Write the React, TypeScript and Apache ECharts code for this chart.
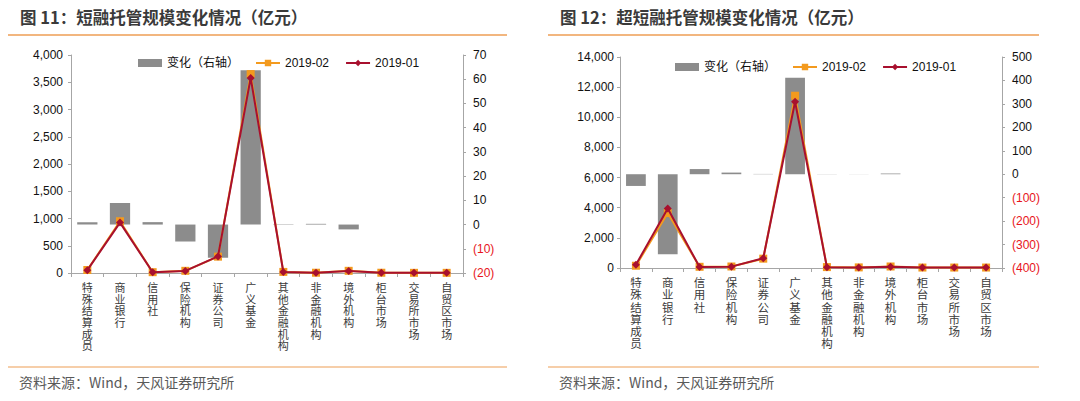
import React, { useEffect, useRef } from "react";
import * as echarts from "echarts";

const categories = ["特殊结算成员", "商业银行", "信用社", "保险机构", "证券公司", "广义基金", "其他金融机构", "非金融机构", "境外机构", "柜台市场", "交易所市场", "自贸区市场"];

// 图11 短融
const cpFeb = [55, 950, 15, 40, 300, 3650, 20, 5, 40, 5, 3, 3];
const cpJan = [52, 925, 13, 38, 304, 3580, 18, 5, 38, 5, 3, 3];
const cpChange = [1.0, 8.9, 1.0, -7, -13.7, 63.7, 0.15, 0.3, -2, 0, 0, 0];

// 图12 超短融
const scpFeb = [150, 3650, 80, 100, 620, 11430, 60, 40, 100, 30, 30, 30];
const scpJan = [220, 3950, 60, 90, 650, 11030, 50, 40, 90, 30, 30, 30];
const scpChange = [-50, -341, 22, 7, 1.2, 412, 0.6, 0.4, 3, 0, 0, 0];

const titles = ["图 11：短融托管规模变化情况（亿元）", "图 12：超短融托管规模变化情况（亿元）"];
const sourceText = "资料来源：Wind，天风证券研究所";
const legendNames = ["变化（右轴）", "2019-02", "2019-01"];

const FONT = "'Liberation Sans', 'Noto Sans CJK SC', sans-serif";
const GRAY_AXIS = "#A6A6A6";
const ORANGE = "#F39A1E";
const RED = "#A8102E";
const BAR = "#8C8C8C";
const LINE_ORANGE = "#EE9E55";

export default function App() {
  const ref = useRef<HTMLDivElement>(null);
  useEffect(() => {
    if (!ref.current) return;
    const chart = echarts.init(ref.current, null, { renderer: "svg" });

    const grids = [
      { left: 71, top: 55, width: 392, height: 218 },
      { left: 620, top: 57, width: 382, height: 211 },
    ];
    const leftAxes = [
      { min: 0, max: 4000, interval: 500, margin: 8 },
      { min: 0, max: 14000, interval: 2000, margin: 6 },
    ];
    const rightAxes = [
      { min: -20, max: 70, interval: 10 },
      { min: -400, max: 500, interval: 100 },
    ];
    const labelFS = [11, 11.5];
    const labelLH = [11.7, 12.2];

    const xAxis: any[] = [];
    const yAxis: any[] = [];
    grids.forEach((g, i) => {
      xAxis.push({
        type: "category",
        gridIndex: i,
        data: categories,
        boundaryGap: true,
        axisLine: { show: true, lineStyle: { color: GRAY_AXIS, width: 1 } },
        axisTick: { show: true, length: 4, lineStyle: { color: GRAY_AXIS } },
        axisLabel: {
          interval: 0,
          margin: 8,
          fontSize: labelFS[i],
          lineHeight: labelLH[i],
          color: "#3a3a3a",
          fontFamily: "'Noto Sans CJK SC', sans-serif",
          formatter: (s: string) => s.split("").join("\n"),
        },
      });
      yAxis.push({
        type: "value",
        gridIndex: i,
        position: "left",
        min: leftAxes[i].min,
        max: leftAxes[i].max,
        interval: leftAxes[i].interval,
        splitLine: { show: false },
        axisLine: { show: true, lineStyle: { color: GRAY_AXIS } },
        axisTick: { show: true, length: 3, lineStyle: { color: GRAY_AXIS } },
        axisLabel: {
          margin: leftAxes[i].margin,
          fontSize: 12,
          color: "#111",
          fontFamily: FONT,
          formatter: (v: number) => v.toLocaleString("en-US"),
        },
      });
      yAxis.push({
        type: "value",
        gridIndex: i,
        position: "right",
        min: rightAxes[i].min,
        max: rightAxes[i].max,
        interval: rightAxes[i].interval,
        splitLine: { show: false },
        axisLine: { show: true, lineStyle: { color: GRAY_AXIS } },
        axisTick: { show: true, length: 3, lineStyle: { color: GRAY_AXIS } },
        axisLabel: {
          margin: 10,
          fontSize: 12,
          color: "#111",
          fontFamily: FONT,
          formatter: (v: number) => (v < 0 ? `{n|(${-v})}` : `${v}`),
          rich: { n: { color: "#E8141B", fontSize: 12, fontFamily: FONT } },
        },
      });
    });

    const sets = [
      { feb: cpFeb, jan: cpJan, chg: cpChange },
      { feb: scpFeb, jan: scpJan, chg: scpChange },
    ];
    const series: any[] = [];
    sets.forEach((s, i) => {
      series.push({
        name: legendNames[0],
        type: "bar",
        xAxisIndex: i,
        yAxisIndex: i * 2 + 1,
        data: s.chg,
        barWidth: "62%",
        itemStyle: { color: BAR },
        z: 1,
      });
      series.push({
        name: legendNames[1],
        type: "line",
        xAxisIndex: i,
        yAxisIndex: i * 2,
        data: s.feb,
        symbol: "rect",
        symbolSize: 8,
        lineStyle: { color: ORANGE, width: 2 },
        itemStyle: { color: ORANGE },
        z: 3,
      });
      series.push({
        name: legendNames[2],
        type: "line",
        xAxisIndex: i,
        yAxisIndex: i * 2,
        data: s.jan,
        symbol: "diamond",
        symbolSize: 8,
        lineStyle: { color: RED, width: 2 },
        itemStyle: { color: RED },
        z: 4,
      });
    });

    const legendBase = {
      data: [
        { name: legendNames[0], icon: "rect", itemStyle: { color: BAR } },
        { name: legendNames[1] },
        { name: legendNames[2] },
      ],
      itemWidth: 24,
      itemHeight: 8,
      itemGap: 16,
      textStyle: { fontSize: 12, color: "#111", fontFamily: FONT },
      selectedMode: false,
    };

    const graphic: any[] = [];
    [0, 540].forEach((ox, i) => {
      graphic.push({
        type: "text",
        left: ox + 20,
        top: 9,
        style: {
          text: titles[i],
          fontSize: 16.5,
          fontWeight: "bold",
          fontFamily: "'Noto Sans CJK SC', sans-serif",
          fill: "#3A3A3A",
        },
      });
      graphic.push({
        type: "line",
        shape: { x1: ox + 8, y1: 35, x2: ox + (i === 0 ? 507 : 499), y2: 35 },
        style: { stroke: LINE_ORANGE, lineWidth: 1.5 },
      });
      graphic.push({
        type: "line",
        shape: { x1: ox + 8, y1: 367, x2: ox + (i === 0 ? 507 : 499), y2: 367 },
        style: { stroke: LINE_ORANGE, lineWidth: 1.2 },
      });
      graphic.push({
        type: "text",
        left: ox + 19,
        top: 375,
        style: {
          text: sourceText,
          fontSize: 14,
          fontFamily: "'Noto Sans CJK SC', sans-serif",
          fill: "#595959",
        },
      });
    });

    chart.setOption({
      animation: false,
      backgroundColor: "#fff",
      grid: grids,
      xAxis,
      yAxis,
      series,
      legend: [
        { ...legendBase, left: 133, top: 52 },
        { ...legendBase, left: 670, top: 56 },
      ],
      graphic,
    });
    return () => chart.dispose();
  }, []);
  return (
    <div
      ref={ref}
      style={{ position: "absolute", left: 0, top: 0, width: 1080, height: 401 }}
    />
  );
}
